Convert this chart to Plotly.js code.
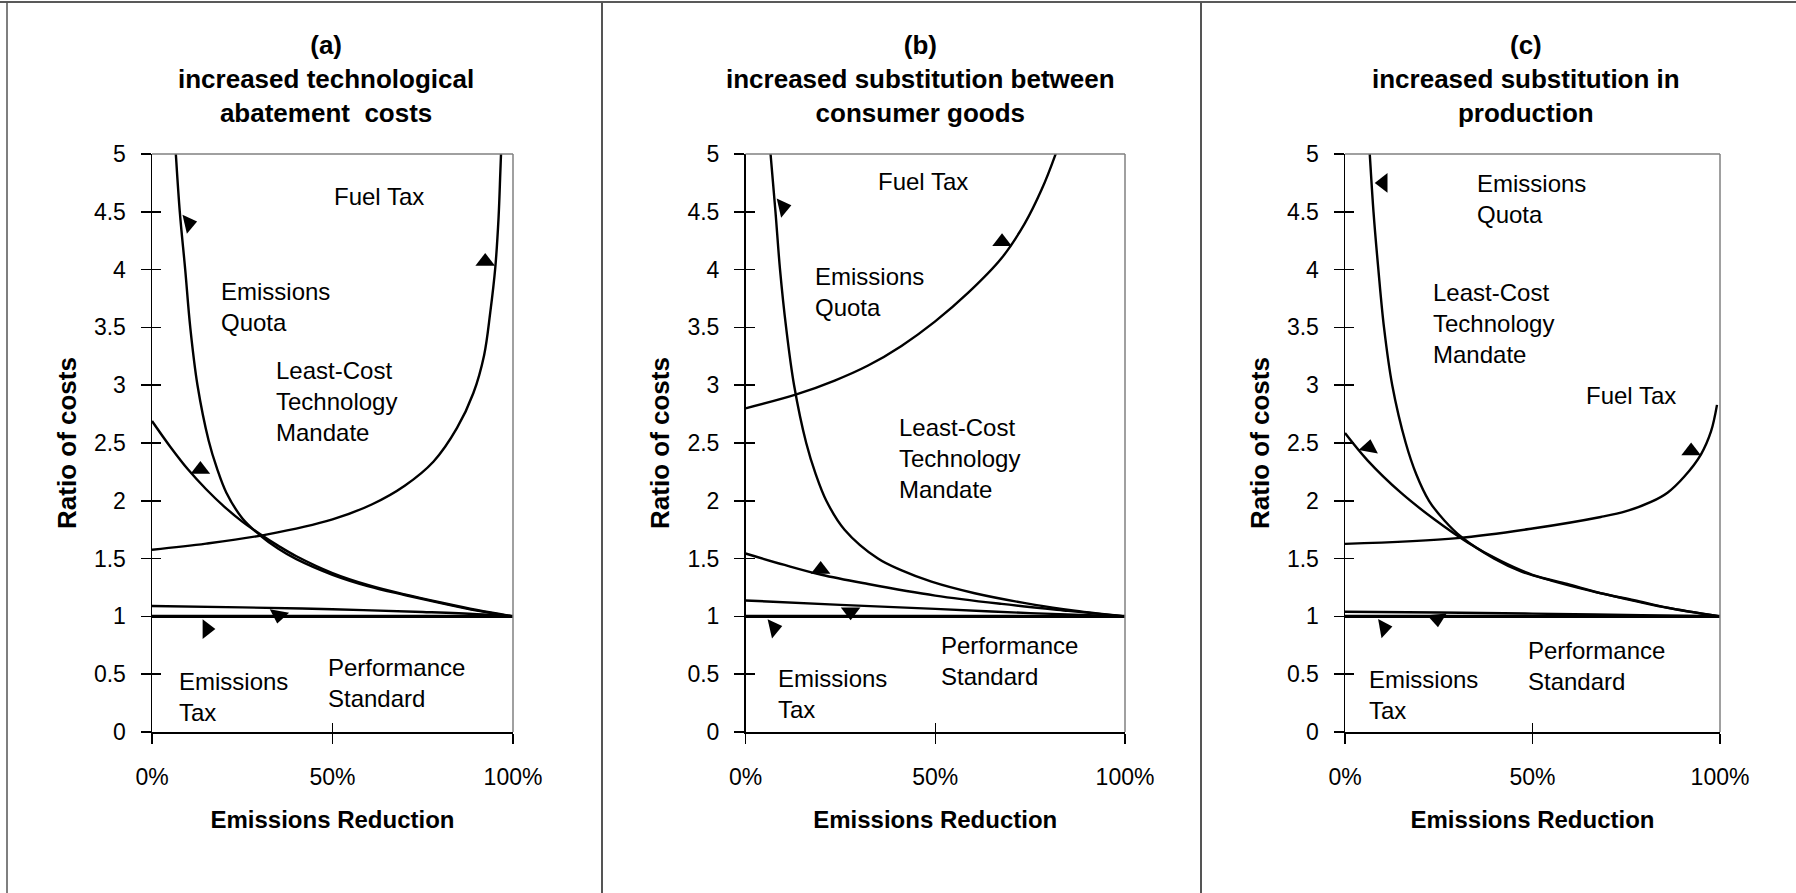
<!DOCTYPE html>
<html><head><meta charset="utf-8">
<script src="https://cdn.plot.ly/plotly-3.0.1.min.js"></script>
<style>html,body{margin:0;padding:0;background:#fff}#chart{width:1796px;height:893px}</style>
</head><body><div id="chart"></div>
<script>
// ---------- tick labels ----------
const xTickVals = [0, 50, 100];
const xTickText = ['0%', '50%', '100%'];
const yTickVals = [0, 0.5, 1, 1.5, 2, 2.5, 3, 3.5, 4, 4.5, 5];
const yTickText = ['0', '0.5', '1', '1.5', '2', '2.5', '3', '3.5', '4', '4.5', '5'];

const panelTitles = [
  ['(a)', 'increased technological', 'abatement  costs'],
  ['(b)', 'increased substitution between', 'consumer goods'],
  ['(c)', 'increased substitution in', 'production']
];
const xTitle = 'Emissions Reduction';
const yTitle = 'Ratio of costs';

// ---------- panel (a) ----------
const aQuotaX = [6.4, 6.6, 7.7, 9.2, 10.6, 12.6, 15.7, 18, 20.6, 25, 30, 35, 40, 50, 60, 70, 80, 90, 100];
const aQuotaY = [5.1, 5.0, 4.5, 4.0, 3.5, 3.0, 2.52, 2.28, 2.07, 1.85, 1.70, 1.585, 1.495, 1.36, 1.26, 1.185, 1.115, 1.05, 1.0];
const aMandateX = [0, 5, 10, 15, 20, 25, 30, 35, 40, 50, 60, 70, 80, 90, 100];
const aMandateY = [2.69, 2.47, 2.27, 2.10, 1.95, 1.82, 1.71, 1.61, 1.52, 1.375, 1.27, 1.19, 1.12, 1.055, 1.0];
const aFuelX = [0, 15, 32, 50, 61, 70, 78, 84.5, 89, 92, 93.7, 95.1, 96, 96.5, 96.8];
const aFuelY = [1.577, 1.63, 1.71, 1.84, 1.97, 2.13, 2.34, 2.63, 2.93, 3.26, 3.63, 4.02, 4.45, 4.85, 5.1];
const aPerfX = [0, 25, 50, 75, 90, 100];
const aPerfY = [1.09, 1.078, 1.062, 1.038, 1.02, 1.0];
const aTaxX = [0, 100];
const aTaxY = [1, 1];
const aArrowX = [10.2, 92.3, 13.4, 15.2, 35.1];
const aArrowY = [4.40, 4.07, 2.27, 0.89, 1.01];
const aArrowAngle = [77, 0, 0, 90, 190];

// ---------- panel (b) ----------
const bQuotaX = [6.4, 6.6, 7.9, 9.1, 10.7, 12.8, 16.0, 18.5, 21.3, 26.1, 34.9, 41, 49, 60.4, 76.3, 86.8, 100];
const bQuotaY = [5.1, 5.0, 4.5, 4.0, 3.5, 3.0, 2.5, 2.23, 2.0, 1.75, 1.5, 1.4, 1.3, 1.2, 1.1, 1.05, 1.0];
const bMandateX = [0, 10.3, 20, 32.3, 50, 67.5, 85, 100];
const bMandateY = [1.544, 1.445, 1.36, 1.28, 1.18, 1.108, 1.048, 1.0];
const bFuelX = [0, 13.4, 23.5, 32.3, 41.1, 49.9, 58.7, 67.5, 73.6, 78, 81.5, 82.5];
const bFuelY = [2.80, 2.92, 3.04, 3.17, 3.34, 3.55, 3.80, 4.10, 4.40, 4.69, 4.98, 5.08];
const bPerfX = [0, 25, 50, 75, 100];
const bPerfY = [1.138, 1.10, 1.065, 1.028, 1.0];
const bTaxX = [0, 100];
const bTaxY = [1, 1];
const bArrowX = [9.9, 67.6, 19.8, 7.5, 27.7];
const bArrowY = [4.54, 4.24, 1.405, 0.90, 1.04];
const bArrowAngle = [77, 0, 0, 77, 180];

// ---------- panel (c) ----------
const cQuotaX = [6.4, 6.6, 7.6, 8.9, 10.4, 12.6, 16.2, 19, 22.4, 26.5, 31.3, 39.8, 46.9, 55, 65, 75, 85, 100];
const cQuotaY = [5.1, 5.0, 4.5, 4.0, 3.5, 3.0, 2.5, 2.23, 2.0, 1.83, 1.68, 1.50, 1.39, 1.31, 1.225, 1.15, 1.08, 1.0];
const cMandateX = [0, 6, 14.9, 23.8, 32.7, 41.5, 50, 59.3, 68.2, 77.1, 86, 100];
const cMandateY = [2.586, 2.35, 2.07, 1.84, 1.64, 1.48, 1.36, 1.28, 1.20, 1.14, 1.075, 1.0];
const cFuelX = [0, 30, 50, 68.2, 75, 81.6, 86, 90.5, 94.9, 97.6, 99.2];
const cFuelY = [1.627, 1.677, 1.76, 1.86, 1.91, 1.99, 2.07, 2.21, 2.40, 2.60, 2.83];
const cPerfX = [0, 25, 50, 75, 100];
const cPerfY = [1.04, 1.034, 1.024, 1.012, 1.0];
const cTaxX = [0, 100];
const cTaxY = [1, 1];
const cArrowX = [10.2, 6.4, 92.3, 10.4, 24.6];
const cArrowY = [4.75, 2.46, 2.43, 0.90, 0.98];
const cArrowAngle = [270, 10, 0, 80, 175];

// ---------- region labels ----------
const labelTexts = {
  fuel: 'Fuel Tax',
  quota: 'Emissions<br>Quota',
  mandate: 'Least-Cost<br>Technology<br>Mandate',
  tax: 'Emissions<br>Tax',
  perf: 'Performance<br>Standard'
};

// ---------- build ----------
const FONT = 'Liberation Sans, Arial, Helvetica, sans-serif';
const W = 1796, H = 893;
const xDomains = [[152 / W, 513 / W], [745.5 / W, 1125 / W], [1345 / W, 1720 / W]];
const yDomain = [161 / H, 739 / H];
const titleCenters = [326 / W, 920 / W, 1526 / W];

const panels = [
  {quota: [aQuotaX, aQuotaY], mandate: [aMandateX, aMandateY], fuel: [aFuelX, aFuelY],
   perf: [aPerfX, aPerfY], tax: [aTaxX, aTaxY], arrows: [aArrowX, aArrowY, aArrowAngle],
   labels: [['fuel', 49.9, 4.63], ['quota', 18.5, 3.68], ['mandate', 33.7, 2.86], ['tax', 6.9, 0.30], ['perf', 48.3, 0.42]]},
  {quota: [bQuotaX, bQuotaY], mandate: [bMandateX, bMandateY], fuel: [bFuelX, bFuelY],
   perf: [bPerfX, bPerfY], tax: [bTaxX, bTaxY], arrows: [bArrowX, bArrowY, bArrowAngle],
   labels: [['fuel', 34.5, 4.76], ['quota', 17.8, 3.81], ['mandate', 39.9, 2.37], ['tax', 8.1, 0.33], ['perf', 50.9, 0.615]]},
  {quota: [cQuotaX, cQuotaY], mandate: [cMandateX, cMandateY], fuel: [cFuelX, cFuelY],
   perf: [cPerfX, cPerfY], tax: [cTaxX, cTaxY], arrows: [cArrowX, cArrowY, cArrowAngle],
   labels: [['quota', 34.6, 4.61], ['mandate', 22.9, 3.53], ['fuel', 63.8, 2.91], ['tax', 5.8, 0.32], ['perf', 48.2, 0.57]]}
];

const traces = [];
const layout = {
  width: W, height: H,
  margin: {l: 0, r: 0, t: 0, b: 0},
  paper_bgcolor: '#ffffff', plot_bgcolor: '#ffffff',
  showlegend: false,
  font: {family: FONT, color: '#000', size: 23},
  annotations: [],
  shapes: []
};

panels.forEach((p, i) => {
  const n = i + 1;
  const xa = 'x' + (n === 1 ? '' : n), ya = 'y' + (n === 1 ? '' : n);
  const xo = 'x' + (n + 3), yo = 'y' + (n + 3);
  const lineStyle = {color: '#000', width: 2.4, shape: 'spline', smoothing: 1};
  [['quota', 'Emissions Quota'], ['mandate', 'Least-Cost Technology Mandate'], ['fuel', 'Fuel Tax'],
   ['perf', 'Performance Standard']].forEach(([k, nm]) => {
    traces.push({type: 'scatter', mode: 'lines', name: nm, x: p[k][0], y: p[k][1],
      xaxis: xa, yaxis: ya, line: lineStyle, hoverinfo: 'skip'});
  });
  traces.push({type: 'scatter', mode: 'lines', name: 'Emissions Tax', x: p.tax[0], y: p.tax[1],
    xaxis: xa, yaxis: ya, line: {color: '#000', width: 3.2}, hoverinfo: 'skip'});
  traces.push({type: 'scatter', mode: 'markers', name: 'arrows', x: p.arrows[0], y: p.arrows[1],
    xaxis: xa, yaxis: ya, hoverinfo: 'skip', cliponaxis: false,
    marker: {symbol: 'triangle-up', size: 17, color: '#000', angle: p.arrows[2], line: {width: 0}}});
  // overlay axes for inner tick halves
  traces.push({type: 'scatter', mode: 'lines', x: [], y: [], xaxis: xo, yaxis: yo, hoverinfo: 'skip'});

  layout['xaxis' + (n === 1 ? '' : n)] = {
    domain: xDomains[i], anchor: ya, range: [0, 100], fixedrange: true,
    tickmode: 'array', tickvals: xTickVals, ticktext: xTickText,
    ticks: 'outside', ticklen: 10, tickwidth: 1.5, tickcolor: '#000', ticklabelstandoff: 14,
    showline: true, linecolor: '#000', linewidth: 1.5, showgrid: false, zeroline: false,
    tickfont: {size: 23, family: FONT, color: '#000'},
    title: {text: '<b>' + xTitle + '</b>', standoff: 22, font: {size: 24, family: FONT, color: '#000'}}
  };
  layout['yaxis' + (n === 1 ? '' : n)] = {
    domain: yDomain, anchor: xa, range: [0, 5], fixedrange: true,
    tickmode: 'array', tickvals: yTickVals, ticktext: yTickText,
    ticks: 'outside', ticklen: 10, tickwidth: 1.5, tickcolor: '#000', ticklabelstandoff: 10,
    showline: true, linecolor: '#000', linewidth: 1.5, showgrid: false, zeroline: false,
    tickfont: {size: 23, family: FONT, color: '#000'},
    title: {text: '<b>' + yTitle + '</b>', standoff: 10, font: {size: 26, family: FONT, color: '#000'}}
  };
  layout['xaxis' + (n + 3)] = {
    overlaying: xa, anchor: ya, range: [0, 100], fixedrange: true,
    tickmode: 'array', tickvals: xTickVals, ticks: 'inside', ticklen: 9, tickwidth: 1.5, tickcolor: '#000',
    showticklabels: false, showline: false, showgrid: false, zeroline: false
  };
  layout['yaxis' + (n + 3)] = {
    overlaying: ya, anchor: xa, range: [0, 5], fixedrange: true,
    tickmode: 'array', tickvals: yTickVals, ticks: 'inside', ticklen: 9, tickwidth: 1.5, tickcolor: '#000',
    showticklabels: false, showline: false, showgrid: false, zeroline: false
  };

  // gray frame top & right
  layout.shapes.push({type: 'line', xref: xa + ' domain', yref: ya + ' domain', x0: 0, x1: 1, y0: 1, y1: 1,
    line: {color: '#808080', width: 1.5}});
  layout.shapes.push({type: 'line', xref: xa + ' domain', yref: ya + ' domain', x0: 1, x1: 1, y0: 0, y1: 1,
    line: {color: '#808080', width: 1.5}});

  // panel title
  layout.annotations.push({xref: 'paper', yref: 'paper', x: titleCenters[i], y: 1 - 79 / H,
    xanchor: 'center', yanchor: 'middle', showarrow: false, align: 'center',
    text: '<b>' + panelTitles[i].join('<br>') + '</b>',
    font: {size: 26, family: FONT, color: '#000'}});

  // region labels
  p.labels.forEach(([k, lx, ly]) => {
    layout.annotations.push({xref: xa, yref: ya, x: lx, y: ly, xanchor: 'left', yanchor: 'middle',
      align: 'left', showarrow: false, text: labelTexts[k],
      font: {size: 24, family: FONT, color: '#000'}});
  });
});

// figure borders
layout.shapes.push({type: 'line', xref: 'paper', yref: 'paper', x0: 0, x1: 1, y0: 1 - 2 / H, y1: 1 - 2 / H,
  line: {color: '#222', width: 1.5}});
layout.shapes.push({type: 'line', xref: 'paper', yref: 'paper', x0: 7 / W, x1: 7 / W, y0: 0, y1: 1 - 2 / H,
  line: {color: '#555', width: 1.5}});
layout.shapes.push({type: 'line', xref: 'paper', yref: 'paper', x0: 602 / W, x1: 602 / W, y0: 0, y1: 1 - 2 / H,
  line: {color: '#555', width: 2}});
layout.shapes.push({type: 'line', xref: 'paper', yref: 'paper', x0: 1201 / W, x1: 1201 / W, y0: 0, y1: 1 - 2 / H,
  line: {color: '#555', width: 2}});

Plotly.newPlot('chart', traces, layout, {staticPlot: true, displayModeBar: false});
</script>
</body></html>
